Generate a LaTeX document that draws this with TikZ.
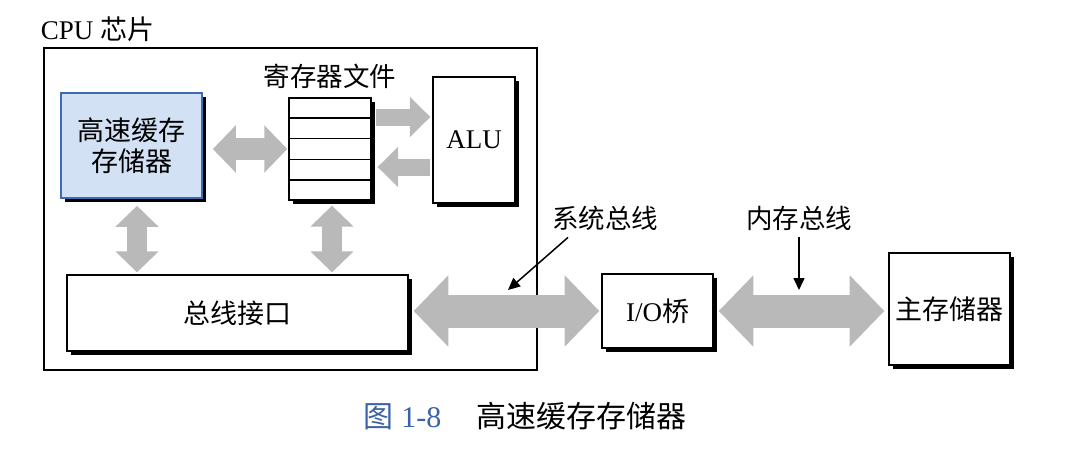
\documentclass[tikz,border=0pt]{standalone}
\usepackage{fontspec}
\setmainfont{Liberation Serif}
\newfontfamily\cjk{Noto Sans CJK SC}
\newcommand{\zhtext}[1]{{\cjk #1}}
\usetikzlibrary{arrows.meta, positioning, shadows, calc}
\definecolor{cachefill}{RGB}{210,225,244}
\definecolor{cacheedge}{RGB}{62,106,176}
\definecolor{capblue}{RGB}{58,98,168}
\tikzset{
  blockbox/.style={rectangle, draw=black, line width=1.3pt, fill=white, align=center, inner sep=0pt, font=\fontsize{27}{31}\selectfont, drop shadow={shadow xshift=4pt, shadow yshift=-4pt, fill=black, opacity=1}},
  cachebox/.style={blockbox, draw=cacheedge, fill=cachefill, line width=1.6pt},
  lbl/.style={inner sep=0pt, font=\fontsize{26.5}{31}\selectfont\cjk},
  fatline/.style={draw=gray!55, line width=#1},
  dfat/.style={fatline=#1, {Triangle[width=0pt 2.1,length=0pt 1.05]}-{Triangle[width=0pt 2.1,length=0pt 1.05]}},
  sfat/.style={fatline=#1, -{Triangle[width=0pt 2.3,length=0pt 1.2]}},
  pointer/.style={draw=black, line width=1.5pt, -{Triangle[length=12pt,width=11pt]}},
}

\begin{document}
\begin{tikzpicture}[x=1pt, y=-1pt]
  \useasboundingbox (0,0) rectangle (1073,452);

  % ---- CPU chip ----
  \node (cpu) [draw, line width=2.5pt, minimum width=493pt, minimum height=322pt, inner sep=0pt] at (290.5,209) {};
  \node (cpulbl) [inner sep=0pt, font=\fontsize{27}{31}\selectfont, above right=5pt and -2pt of cpu.north west] {CPU \zhtext{芯片}};

  % ---- Units inside the chip ----
  \node (cache) [cachebox, minimum width=141pt, minimum height=105pt] at (131.5,145.5) {\zhtext{高速缓存}\\\zhtext{存储器}};
  \node (reg) [blockbox, minimum width=82pt, minimum height=102pt] at (330,149) {};
  \foreach \i in {1,...,4}
    \draw [line width=1.3pt] ($(reg.north west)!\i/5!(reg.south west)$) -- ($(reg.north east)!\i/5!(reg.south east)$);
  \node (reglbl) [lbl, above=9pt of reg] {寄存器文件};
  \node (alu) [blockbox, minimum width=82pt, minimum height=126pt] at (474,140) {ALU};
  \node (bif) [blockbox, minimum width=341pt, minimum height=76pt] at (237.5,313) {\zhtext{总线接口}};

  % ---- Outside the chip ----
  \node (iob) [blockbox, minimum width=111pt, minimum height=74pt] at (657.5,311) {I/O\zhtext{桥}};
  \node (mem) [blockbox, minimum width=121pt, minimum height=112pt] at (949.5,309) {\zhtext{主存储器}};

  % ---- Buses ----
  \draw [dfat=22pt, shorten <=10pt, shorten >=1pt] (cache.east |- reg.west) -- (reg.west);
  \draw [sfat=17pt, shorten <=4pt, shorten >=2pt] ([yshift=32pt]reg.east) -- ([yshift=32pt]reg.east -| alu.west);
  \draw [sfat=17pt, shorten <=2pt, shorten >=6pt] ([yshift=-18pt]reg.east -| alu.west) -- ([yshift=-18pt]reg.east);
  \draw [dfat=20pt, shorten <=7pt, shorten >=2pt] ([xshift=5.5pt]cache.south) -- ([xshift=5.5pt]cache.south |- bif.north);
  \draw [dfat=20pt, shorten <=5pt, shorten >=2pt] ([xshift=2pt]reg.south) -- ([xshift=2pt]reg.south |- bif.north);
  \draw [dfat=33pt, shorten <=5pt, shorten >=2pt] (bif.east |- iob.west) -- (iob.west);
  \draw [dfat=33pt, shorten <=5pt, shorten >=4pt] (iob.east) -- (iob.east -| mem.west);

  % ---- Bus labels ----
  \node (sysbus) [lbl] at (605,218) {系统总线};
  \coordinate (sysbusp) at (508,290);
  \draw [pointer] ([xshift=-37pt, yshift=-7pt]sysbus.south) -- (sysbusp);
  \node (membus) [lbl] at (799,218) {内存总线};
  \coordinate (membusp) at (799,290);
  \draw [pointer, shorten <=7pt] (membus.south) -- (membusp);

  % ---- Caption ----
  \node (caption) [inner sep=0pt, font=\fontsize{30}{36}\selectfont] at (525,416) {\textcolor{capblue}{\zhtext{图}~1-8}\hspace{35pt}\zhtext{高速缓存存储器}};

\end{tikzpicture}
\end{document}
